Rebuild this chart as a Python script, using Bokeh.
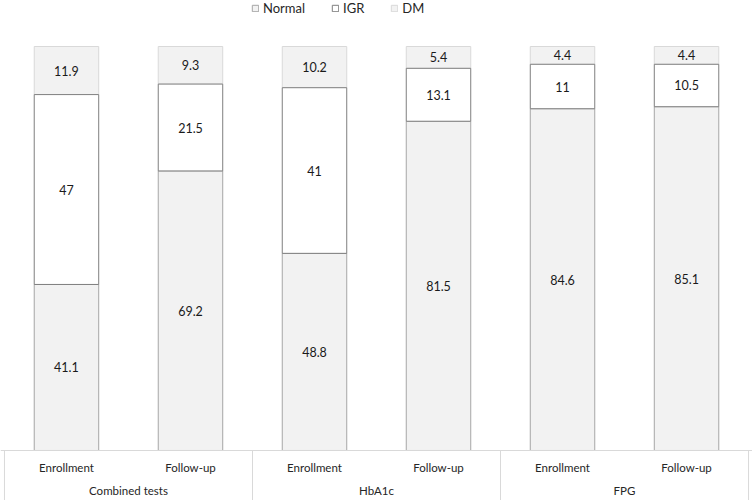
from bokeh.plotting import figure
from bokeh.models import FactorRange, Range1d, ColumnDataSource, Legend, LegendItem, Span
from bokeh.core.properties import value
from bokeh.embed import file_html
from bokeh.resources import INLINE

# ---- data ----
tests = ["Combined tests", "HbA1c", "FPG"]
visits = ["Enrollment", "Follow-up"]
series = ["Normal", "IGR", "DM"]
normal = [41.1, 69.2, 48.8, 81.5, 84.6, 85.1]
igr = [47, 21.5, 41, 13.1, 11, 10.5]
dm = [11.9, 9.3, 10.2, 5.4, 4.4, 4.4]

# ---- styles ----
fills = ["#f2f2f2", "#ffffff", "#f2f2f2"]
lines = ["#a6a6a6", "#7f7f7f", "#d9d9d9"]
FONT = "Lato"
Y_START, Y_END = -12.38, 111.39

x = [(t, v) for t in tests for v in visits]
src = ColumnDataSource(dict(x=x, Normal=normal, IGR=igr, DM=dm))

p = figure(width=752, height=500,
           x_range=FactorRange(*x, factor_padding=0, group_padding=0,
                               range_padding=0.032, range_padding_units="absolute"),
           y_range=Range1d(Y_START, Y_END),
           output_backend="svg", toolbar_location=None, min_border=0,
           x_axis_location=None, y_axis_location=None)
p.grid.visible = False
p.outline_line_color = None

rs = p.vbar_stack(series, x="x", width=0.52, source=src,
                  fill_color=fills, line_color=lines, line_width=1)
# draw IGR last so its darker outline stays on top
others = [r for r in p.renderers if r not in rs]
p.renderers = others + [rs[0], rs[2], rs[1]]

# segment value labels
lx, ly, lt = [], [], []
for i, xx in enumerate(x):
    base = 0.0
    for vals in (normal, igr, dm):
        lx.append(xx)
        ly.append(base + vals[i] / 2)
        lt.append(f"{vals[i]:g}")
        base += vals[i]
p.text(x=lx, y=ly, text=lt, text_align="center", text_baseline="middle",
       text_font=value(FONT), text_font_size="12.5px", text_color="#1a1a1a")

# category axis drawn as a bordered table below the bars
p.add_layout(Span(location=0, dimension="width", line_color="#d9d9d9", line_width=1))
seps = [0, 2, 4, 6]
p.segment(x0=seps, y0=[0] * 4, x1=seps, y1=[Y_START] * 4,
          line_color="#d9d9d9", line_width=1)
p.text(x=x, y=[0] * len(x), text=[v for _, v in x], y_offset=17,
       text_align="center", text_baseline="middle",
       text_font=value(FONT), text_font_size="11.5px", text_color="#262626")
p.text(x=tests, y=[0] * len(tests), text=tests, y_offset=40,
       text_align="center", text_baseline="middle",
       text_font=value(FONT), text_font_size="11.5px", text_color="#262626")

legend = Legend(items=[LegendItem(label=s, renderers=[r]) for s, r in zip(series, rs)],
                orientation="horizontal", location=(251, 484),
                glyph_width=8, glyph_height=8, label_height=12,
                label_standoff=4, spacing=26, padding=0, margin=0,
                label_text_font=FONT, label_text_font_size="13px",
                label_text_color="#262626",
                background_fill_alpha=0, border_line_color=None)
p.add_layout(legend)

open("out.html", "w").write(file_html(p, INLINE))
